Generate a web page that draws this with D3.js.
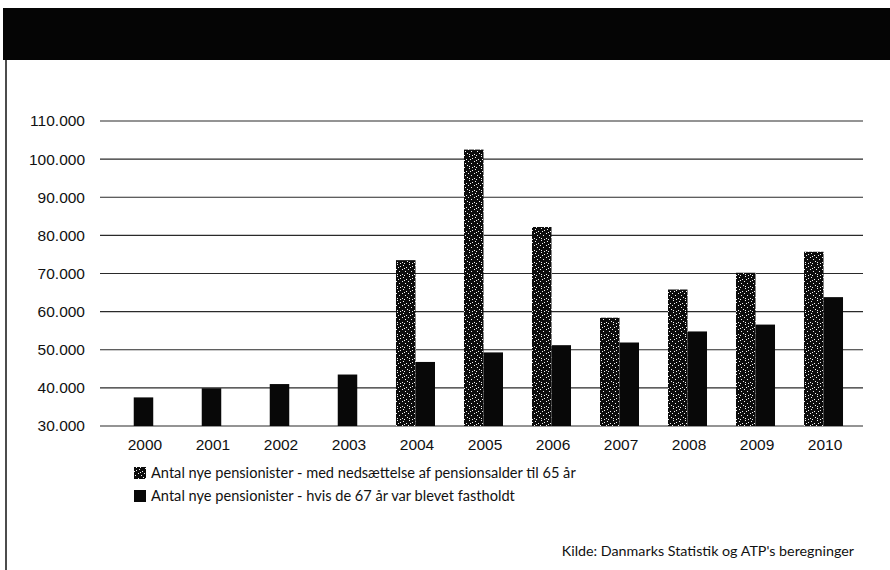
<!DOCTYPE html>
<html>
<head>
<meta charset="utf-8">
<script src="https://cdn.jsdelivr.net/npm/d3@7"></script>
<style>
	body { margin: 0; background: #fff; }
	svg { display: block; }
</style>
</head>
<body>
<div id="chart"></div>
<script>
// data
var years = ["2000", "2001", "2002", "2003", "2004", "2005", "2006", "2007", "2008", "2009", "2010"];
// med nedsaettelse af pensionsalder til 65 aar (no bar before 2004)
var reduced = [null, null, null, null, 73500, 102500, 82200, 58400, 65800, 70200, 75700];
// hvis de 67 aar var blevet fastholdt
var kept = [37500, 39900, 41000, 43500, 46800, 49300, 51200, 51900, 54800, 56600, 63800];
var yTicks = [30000, 40000, 50000, 60000, 70000, 80000, 90000, 100000, 110000];
var legendLabels = [
	"Antal nye pensionister - med nedsættelse af pensionsalder til 65 år",
	"Antal nye pensionister - hvis de 67 år var blevet fastholdt"
];
var sourceText = "Kilde: Danmarks Statistik og ATP's beregninger";

var W = 890, H = 570;
var svg = d3.select("#chart").append("svg")
	.attr("width", W)
	.attr("height", H);

// speckled fill for the first series
var defs = svg.append("defs");
var pat = defs.append("pattern")
	.attr("id", "speckle")
	.attr("patternUnits", "userSpaceOnUse")
	.attr("width", 12)
	.attr("height", 12);
pat.append("rect").attr("width", 12).attr("height", 12).attr("fill", "#0c0c0c");
var specks = [[1, 0], [7, 1], [4, 2], [10, 3], [0, 5], [6, 5], [3, 7], [9, 7], [11, 9], [1, 10], [6, 10], [4, 11], [8, 11], [2, 3], [8, 4]];
specks.forEach(function(p){
	pat.append("rect")
		.attr("x", p[0]).attr("y", p[1])
		.attr("width", 1).attr("height", 1)
		.attr("fill", "#f4f4f4");
});

// header band (title unreadable in the scan)
svg.append("rect")
	.attr("x", 3).attr("y", 8)
	.attr("width", W - 3).attr("height", 52)
	.attr("fill", "#050505");

// left frame line
svg.append("line")
	.attr("x1", 6).attr("x2", 6)
	.attr("y1", 60).attr("y2", H)
	.attr("stroke", "#111")
	.attr("stroke-width", 1.5);

var x = d3.scaleBand()
	.domain(years)
	.range([109.5, 857.5])
	.paddingInner(0.4265)
	.paddingOuter(0.213);

var y = d3.scaleLinear()
	.domain([30000, 110000])
	.range([426, 121]);

var fmt = function(v){ return d3.format(",")(v).replace(/,/g, "."); };

// gridlines
svg.append("g")
	.selectAll("line")
	.data(yTicks)
	.join("line")
		.attr("x1", 100)
		.attr("x2", 863)
		.attr("y1", function(d){ return y(d); })
		.attr("y2", function(d){ return y(d); })
		.attr("stroke", "#2a2a2a")
		.attr("stroke-width", 1.1);

// y axis labels
var yAxis = svg.append("g")
	.attr("transform", "translate(89,0)")
	.call(d3.axisLeft(y).tickValues(yTicks).tickFormat(fmt).tickSize(0).tickPadding(4));
yAxis.select(".domain").remove();
yAxis.selectAll("text")
	.attr("font-family", "'Liberation Sans', Arial, sans-serif")
	.attr("font-size", "15.5px")
	.attr("fill", "#111");

// x axis labels
var xAxis = svg.append("g")
	.attr("transform", "translate(1.5,426)")
	.call(d3.axisBottom(x).tickSize(0).tickPadding(13));
xAxis.select(".domain").remove();
xAxis.selectAll("text")
	.attr("font-family", "'Liberation Sans', Arial, sans-serif")
	.attr("font-size", "15.5px")
	.attr("fill", "#111");

var bw = x.bandwidth() / 2;
var bars = svg.append("g");

bars.selectAll("rect.reduced")
	.data(years.map(function(d, i){ return {year: d, v: reduced[i]}; }).filter(function(d){ return d.v !== null; }))
	.join("rect")
		.attr("class", "reduced")
		.attr("x", function(d){ return x(d.year); })
		.attr("width", bw)
		.attr("y", function(d){ return y(d.v); })
		.attr("height", function(d){ return y(30000) - y(d.v); })
		.attr("fill", "url(#speckle)");

bars.selectAll("rect.kept")
	.data(years.map(function(d, i){ return {year: d, v: kept[i], alone: reduced[i] === null}; }))
	.join("rect")
		.attr("class", "kept")
		.attr("x", function(d){ return d.alone ? x(d.year) + bw / 2 : x(d.year) + bw; })
		.attr("width", bw)
		.attr("y", function(d){ return y(d.v); })
		.attr("height", function(d){ return y(30000) - y(d.v); })
		.attr("fill", "#080808");

// legend
var legend = svg.append("g");
var legendY = [473, 496];
legendLabels.forEach(function(label, i){
	legend.append("rect")
		.attr("x", 134)
		.attr("y", legendY[i] - 6)
		.attr("width", 12)
		.attr("height", 12)
		.attr("fill", i === 0 ? "url(#speckle)" : "#080808");
	legend.append("text")
		.attr("x", 151)
		.attr("y", legendY[i])
		.attr("dy", "0.35em")
		.attr("font-family", "Lato, 'Open Sans', sans-serif")
		.attr("font-size", "14.6px")
		.attr("fill", "#111")
		.text(label);
});

svg.append("text")
	.attr("x", 854)
	.attr("y", 551)
	.attr("dy", "0.35em")
	.attr("text-anchor", "end")
	.attr("font-family", "Lato, 'Open Sans', sans-serif")
	.attr("font-size", "14.3px")
	.attr("fill", "#111")
	.text(sourceText);
</script>
</body>
</html>
